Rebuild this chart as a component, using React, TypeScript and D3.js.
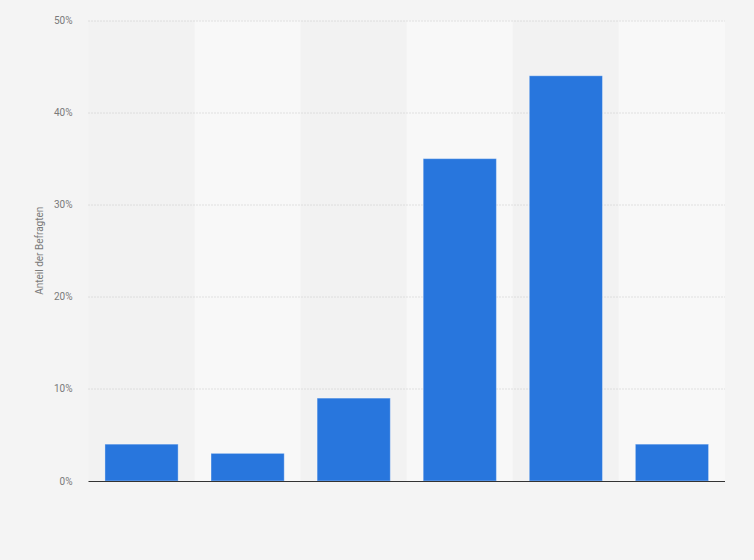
import React, { useEffect, useRef } from 'react';
import * as d3 from 'd3';

// values (percent of respondents)
const categories = ['A', 'B', 'C', 'D', 'E', 'F'];
const shares = [4, 3, 9, 35, 44, 4];
const yTicks = [0, 10, 20, 30, 40, 50];
const yLabel = 'Anteil der Befragten';

const App: React.FC = () => {
  const svgRef = useRef<SVGSVGElement>(null);

  useEffect(() => {
    if (!svgRef.current) return;

    const width = 754;
    const height = 560;
    const margin = { top: 20.5, right: 29, bottom: 79, left: 88.5 };
    const innerW = width - margin.left - margin.right;
    const innerH = height - margin.top - margin.bottom;

    const svg = d3.select(svgRef.current);
    svg.selectAll('*').remove();

    svg.append('rect')
      .attr('width', width)
      .attr('height', height)
      .attr('fill', '#f4f4f4');

    const g = svg.append('g')
      .attr('transform', `translate(${margin.left},${margin.top})`);

    const x = d3.scaleBand<string>()
      .domain(categories)
      .range([0, innerW])
      .paddingInner(0.31)
      .paddingOuter(0.155);

    const y = d3.scaleLinear().domain([0, 50]).range([innerH, 0]);

    // Alternating column bands
    const step = x.step();
    g.selectAll('.band')
      .data(categories)
      .enter().append('rect')
      .attr('class', 'band')
      .attr('x', d => (x(d) as number) - (step - x.bandwidth()) / 2)
      .attr('y', 0)
      .attr('width', step)
      .attr('height', innerH)
      .attr('fill', (_, i) => i % 2 === 0 ? '#f2f2f2' : '#f8f8f8');

    // Grid lines (dotted)
    g.selectAll('.grid')
      .data(yTicks.filter(t => t > 0))
      .enter().append('line')
      .attr('class', 'grid')
      .attr('x1', 0)
      .attr('x2', innerW)
      .attr('y1', d => Math.round(y(d)) + 0.5)
      .attr('y2', d => Math.round(y(d)) + 0.5)
      .attr('stroke', '#c8c8c8')
      .attr('stroke-width', 1)
      .attr('stroke-dasharray', '1,2');

    // Tick labels
    g.selectAll('.tick-label')
      .data(yTicks)
      .enter().append('text')
      .attr('class', 'tick-label')
      .attr('x', -16)
      .attr('y', d => y(d))
      .attr('dy', '0.35em')
      .attr('text-anchor', 'end')
      .attr('font-family', 'Roboto, Arial, sans-serif')
      .attr('font-size', '10px')
      .attr('fill', '#7a7a7a')
      .text(d => `${d}%`);

    // Bars
    g.selectAll('.bar')
      .data(shares)
      .enter().append('rect')
      .attr('class', 'bar')
      .attr('x', (_, i) => x(categories[i]) as number)
      .attr('y', d => y(d))
      .attr('width', x.bandwidth())
      .attr('height', d => innerH - y(d))
      .attr('fill', '#2876dd')
      .attr('stroke', 'rgba(255,255,255,0.35)')
      .attr('stroke-width', 1);

    // Baseline
    g.append('line')
      .attr('x1', 0)
      .attr('x2', innerW)
      .attr('y1', innerH + 0.5)
      .attr('y2', innerH + 0.5)
      .attr('stroke', '#333333')
      .attr('stroke-width', 1);

    // Y axis title
    svg.append('text')
      .attr('transform', `translate(43,${margin.top + innerH / 2}) rotate(-90)`)
      .attr('text-anchor', 'middle')
      .attr('font-family', 'Roboto, Arial, sans-serif')
      .attr('font-size', '10px')
      .attr('fill', '#7a7a7a')
      .text(yLabel);
  }, []);

  return (
    <svg
      ref={svgRef}
      width="754"
      height="560"
      style={{ position: 'absolute', left: 0, top: 0, display: 'block' }}
    />
  );
};

export default App;
